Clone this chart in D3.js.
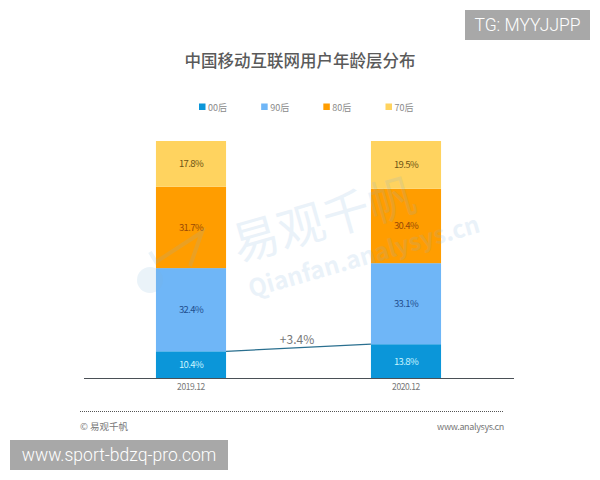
<!DOCTYPE html>
<html>
<head>
<meta charset="utf-8">
<script src="https://cdn.jsdelivr.net/npm/d3@7"></script>
<style>
  html, body { margin: 0; padding: 0; background: #fff; }
  svg { display: block; }
  text { font-family: "Noto Sans CJK SC", "Noto Sans", sans-serif; }
</style>
</head>
<body>
<div id="chart"></div>
<script>
const width = 600;
const height = 480;

const periods = ["2019.12", "2020.12"];
const generations = ["00后", "90后", "80后", "70后"];
const values00 = [10.4, 13.8];
const values90 = [32.4, 33.1];
const values80 = [31.7, 30.4];
const values70 = [17.8, 19.5];
const colors = ["#0b96d9", "#6fb6f7", "#ff9d00", "#ffd35f"];
const labelColors = ["#c8f4ff", "#1f4f8f", "#9a4b06", "#6e5313"];
const changeLabel = "+3.4%";

const table = periods.map((p, i) => ({
    period: p,
    "00后": values00[i],
    "90后": values90[i],
    "80后": values80[i],
    "70后": values70[i]
}));

const svg = d3.select("#chart").append("svg")
    .attr("width", width)
    .attr("height", height);

// bars are drawn to the same full height even though the labels don't add up to 100
const stacked = d3.stack()
    .keys(generations)
    .offset(d3.stackOffsetExpand)(table);

const x = d3.scaleBand()
    .domain(periods)
    .range([83.5, 513.5])
    .paddingInner(0.674)
    .paddingOuter(0.337);

const y = d3.scaleLinear()
    .domain([0, 1])
    .range([378, 141]);

svg.append("text")
    .attr("x", 300)
    .attr("y", 67)
    .attr("text-anchor", "middle")
    .attr("font-size", 16.5)
    .attr("font-weight", 500)
    .attr("fill", "#5a5a5a")
    .text("中国移动互联网用户年龄层分布");

// legend
const legendX = d3.scalePoint()
    .domain(generations)
    .range([199, 385.5]);

const legend = svg.selectAll(".legend")
    .data(generations).enter()
    .append("g")
    .attr("class", "legend")
    .attr("transform", d => `translate(${legendX(d)},107)`);

legend.append("rect")
    .attr("y", -3.5)
    .attr("width", 6.5)
    .attr("height", 6.5)
    .attr("fill", (d, i) => colors[i]);

legend.append("text")
    .attr("x", 9)
    .attr("y", 3.5)
    .attr("font-size", 9)
    .attr("fill", "#8a8a8a")
    .text(d => d);

// bars
const layers = svg.selectAll(".layer")
    .data(stacked).enter()
    .append("g")
    .attr("class", "layer");

layers.selectAll("rect")
    .data(d => d).enter()
    .append("rect")
    .attr("x", d => x(d.data.period))
    .attr("y", d => y(d[1]))
    .attr("width", x.bandwidth())
    .attr("height", d => y(d[0]) - y(d[1]))
    .attr("fill", function () { return colors[stacked.indexOf(d3.select(this.parentNode).datum())]; });

layers.selectAll("text")
    .data(d => d.map(v => ({ v: v, key: d.key, index: d.index }))).enter()
    .append("text")
    .attr("x", d => x(d.v.data.period) + x.bandwidth() / 2)
    .attr("y", d => y((d.v[0] + d.v[1]) / 2) + 3.5)
    .attr("text-anchor", "middle")
    .attr("font-size", 9.5)
    .attr("letter-spacing", -0.6)
    .attr("fill", d => labelColors[d.index])
    .text(d => d.v.data[d.key].toFixed(1) + "%");

// connector between the two 00后 segments
const first = stacked[0];
svg.append("line")
    .attr("x1", x(periods[0]) + x.bandwidth())
    .attr("y1", y(first[0][1]))
    .attr("x2", x(periods[1]))
    .attr("y2", y(first[1][1]))
    .attr("stroke", "#2a6f8f")
    .attr("stroke-width", 1.2);

svg.append("text")
    .attr("x", 297)
    .attr("y", 344)
    .attr("text-anchor", "middle")
    .attr("font-size", 12)
    .attr("fill", "#777")
    .text(changeLabel);

// axis
const axis = svg.append("g")
    .attr("transform", "translate(0,378)")
    .call(d3.axisBottom(x).tickSize(0).tickPadding(6));
axis.select(".domain").attr("stroke", "#4a5056").attr("stroke-width", 1);
axis.selectAll("text")
    .attr("font-size", 8.5)
    .attr("letter-spacing", -0.4)
    .attr("fill", "#777")
    .style("font-family", '"Noto Sans CJK SC", sans-serif');

// watermark
const mark = svg.append("g")
    .attr("transform", "translate(238,262) rotate(-16)")
    .attr("fill", "#7fb2dc")
    .attr("opacity", 0.16);
mark.append("text")
    .attr("font-size", 47)
    .text("易观千帆");
mark.append("text")
    .attr("x", 3)
    .attr("y", 38)
    .attr("font-size", 24)
    .attr("font-weight", 700)
    .text("Qianfan.analysys.cn");
svg.append("circle")
    .attr("cx", 150)
    .attr("cy", 280)
    .attr("r", 13)
    .attr("fill", "#7fb2dc")
    .attr("opacity", 0.16);
svg.append("path")
    .attr("d", "M150 252 L156 262 L202 232 L190 266")
    .attr("fill", "none")
    .attr("stroke", "#7fb2dc")
    .attr("stroke-width", 4)
    .attr("opacity", 0.16);

// footer
svg.append("line")
    .attr("x1", 80)
    .attr("x2", 503)
    .attr("y1", 411.5)
    .attr("y2", 411.5)
    .attr("stroke", "#555")
    .attr("stroke-dasharray", "1 1");

svg.append("text")
    .attr("x", 80)
    .attr("y", 430)
    .attr("font-size", 9.5)
    .attr("fill", "#777")
    .text("© 易观千帆");

svg.append("text")
    .attr("x", 504)
    .attr("y", 430)
    .attr("text-anchor", "end")
    .attr("font-size", 9)
    .attr("letter-spacing", -0.35)
    .attr("fill", "#777")
    .text("www.analysys.cn");

// stamped-on badges
const badges = [
    { label: "TG: MYYJJPP", x: 465, y: 10, w: 125 },
    { label: "www.sport-bdzq-pro.com", x: 10, y: 440, w: 218 }
];
const badge = svg.selectAll(".badge")
    .data(badges).enter()
    .append("g")
    .attr("class", "badge");
badge.append("rect")
    .attr("x", d => d.x)
    .attr("y", d => d.y)
    .attr("width", d => d.w)
    .attr("height", 30)
    .attr("fill", "#a8a8a8");
badge.append("text")
    .attr("x", d => d.x + d.w / 2)
    .attr("y", d => d.y + 21)
    .attr("text-anchor", "middle")
    .attr("font-size", 17.5)
    .attr("fill", "#fff")
    .style("font-family", "Roboto, sans-serif")
    .style("font-weight", 300)
    .text(d => d.label);
</script>
</body>
</html>
